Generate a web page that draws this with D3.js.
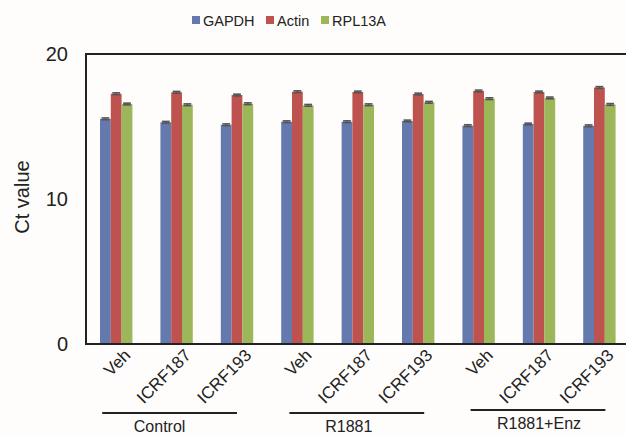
<!DOCTYPE html>
<html>
<head>
<meta charset="utf-8">
<script src="https://cdn.jsdelivr.net/npm/d3@7"></script>
<style>
  html, body { margin: 0; padding: 0; background: #fefdfb; }
  svg { display: block; font-family: "Liberation Sans", Arial, sans-serif; }
</style>
</head>
<body>
<svg id="chart" width="626" height="435"></svg>
<script>
// Ct values of three reference genes across treatments
const categories = ["Veh", "ICRF187", "ICRF193", "Veh", "ICRF187", "ICRF193", "Veh", "ICRF187", "ICRF193"];
const groups = ["Control", "R1881", "R1881+Enz"];
const seriesNames = ["GAPDH", "Actin", "RPL13A"];
const gapdh = [15.53, 15.29, 15.12, 15.33, 15.33, 15.38, 15.06, 15.17, 15.05];
const actin = [17.26, 17.36, 17.17, 17.40, 17.38, 17.24, 17.45, 17.38, 17.69];
const rpl13a = [16.55, 16.50, 16.57, 16.46, 16.50, 16.67, 16.92, 16.97, 16.52];
const errors = [0.06, 0.06, 0.06, 0.06, 0.06, 0.06, 0.06, 0.06, 0.06];
const yTicks = [0, 10, 20];
const colors = ["#6479ad", "#bd524e", "#9cb75a"];

const seriesValues = [gapdh, actin, rpl13a];
const svg = d3.select("#chart");

const plotLeft = 86, plotRight = 629.6, plotTop = 54, plotBottom = 344;
const keys = categories.map((c, i) => i);

const x = d3.scaleBand().domain(keys).range([plotLeft, plotRight])
  .paddingInner(0.464).paddingOuter(0.232);
const xs = d3.scaleBand().domain(seriesNames).range([0, x.bandwidth()]);
const y = d3.scaleLinear().domain([0, 20]).range([plotBottom, plotTop]);

// bars
const rows = keys.map(i => ({
  i,
  vals: seriesNames.map((s, j) => ({ s, j, v: seriesValues[j][i], e: errors[i] }))
}));

const g = svg.append("g").selectAll("g").data(rows).join("g")
  .attr("transform", d => `translate(${x(d.i)},0)`);

g.selectAll("rect.bar").data(d => d.vals).join("rect")
  .attr("class", "bar")
  .attr("x", d => xs(d.s))
  .attr("width", xs.bandwidth())
  .attr("y", d => y(d.v))
  .attr("height", d => y(0) - y(d.v))
  .attr("fill", d => colors[d.j]);

// error bars
const eb = g.selectAll("g.err").data(d => d.vals).join("g").attr("class", "err")
  .attr("stroke", "#555").attr("stroke-width", 1.6);
eb.append("line")
  .attr("x1", d => xs(d.s) + xs.bandwidth() / 2).attr("x2", d => xs(d.s) + xs.bandwidth() / 2)
  .attr("y1", d => y(d.v + d.e)).attr("y2", d => y(d.v - d.e));
eb.append("line")
  .attr("x1", d => xs(d.s) + 1.5).attr("x2", d => xs(d.s) + xs.bandwidth() - 1.5)
  .attr("y1", d => y(d.v + d.e)).attr("y2", d => y(d.v + d.e));
eb.append("line")
  .attr("x1", d => xs(d.s) + 1.5).attr("x2", d => xs(d.s) + xs.bandwidth() - 1.5)
  .attr("y1", d => y(d.v - d.e)).attr("y2", d => y(d.v - d.e));

// frame
svg.append("path")
  .attr("d", `M${plotRight + 4},${plotTop}H${plotLeft}V${plotBottom}H${plotRight + 4}`)
  .attr("fill", "none").attr("stroke", "#222").attr("stroke-width", 2);

// y axis
const yAxis = svg.append("g").attr("transform", `translate(${plotLeft},0)`)
  .call(d3.axisLeft(y).tickValues(yTicks).tickSize(0).tickPadding(18));
yAxis.select(".domain").remove();
yAxis.selectAll("text").attr("font-size", 20).attr("fill", "#222")
  .attr("font-family", "Liberation Sans, Arial, sans-serif");

svg.append("text")
  .attr("transform", `translate(29,197) rotate(-90)`)
  .attr("text-anchor", "middle")
  .attr("font-size", 20).attr("fill", "#222")
  .text("Ct value");

// x axis category labels
const xAxis = svg.append("g").attr("transform", `translate(0,${plotBottom})`)
  .call(d3.axisBottom(x).tickSize(0).tickFormat(i => categories[i]));
xAxis.select(".domain").remove();
xAxis.selectAll("text")
  .attr("font-size", 17).attr("fill", "#222")
  .attr("font-family", "Liberation Sans, Arial, sans-serif")
  .attr("text-anchor", "end")
  .attr("dy", "0.35em")
  .attr("transform", "translate(9,6) rotate(-45)");

// group brackets
const bracketOffsets = [[-14, 0, -10], [-8, 6, -8], [-8, 6, 1]];
groups.forEach((name, k) => {
  const first = x(k * 3) + x.bandwidth() / 2;
  const last = x(k * 3 + 2) + x.bandwidth() / 2;
  const [o1, o2, ot] = bracketOffsets[k];
  const x1 = first + o1, x2 = last + o2;
  const ly = k === 2 ? 410 : 413;
  svg.append("line")
    .attr("x1", x1).attr("x2", x2).attr("y1", ly).attr("y2", ly)
    .attr("stroke", "#222").attr("stroke-width", 2);
  svg.append("text")
    .attr("x", (x1 + x2) / 2 + ot)
    .attr("y", ly + 19)
    .attr("text-anchor", "middle")
    .attr("font-size", 16).attr("fill", "#222")
    .text(name);
});

// legend
const legendX = [192, 266, 321];
const leg = svg.append("g").selectAll("g").data(seriesNames).join("g")
  .attr("transform", (d, i) => `translate(${legendX[i]},16)`);
leg.append("rect").attr("width", 8).attr("height", 8).attr("fill", (d, i) => colors[i]);
leg.append("text").attr("x", 11).attr("y", 9.5)
  .attr("font-size", 14.5).attr("fill", "#222").text(d => d);
</script>
</body>
</html>
